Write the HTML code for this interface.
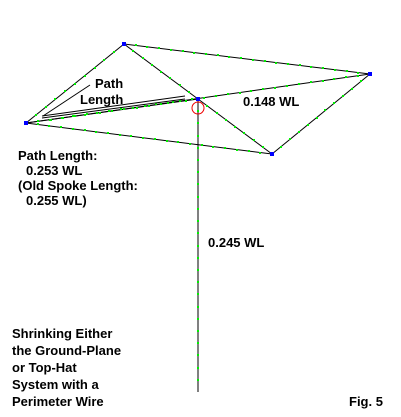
<!DOCTYPE html>
<html><head><meta charset="utf-8"><style>
html,body{margin:0;padding:0;background:#fff;width:401px;height:417px;overflow:hidden}
svg{display:block}
text{font-family:"Liberation Sans",Arial,sans-serif;font-weight:bold;font-size:13px;fill:#000}
</style></head><body>
<svg id="fig" width="401" height="417" viewBox="0 0 401 417">
<g id="wires"></g>
<g id="dots"></g>
<line x1="43" y1="116" x2="90" y2="85" stroke="#000" stroke-width="1"/>
<line x1="42" y1="118" x2="185" y2="99" stroke="#000" stroke-width="1"/>
<line x1="42" y1="116" x2="185" y2="96" stroke="#000" stroke-width="1"/>
<circle cx="198" cy="108" r="6" fill="none" stroke="#e00" stroke-width="1"/>
<g id="nodes"></g>
<text x="95" y="88">Path</text>
<text x="80" y="104">Length</text>
<text x="243" y="106">0.148 WL</text>
<text x="18" y="160">Path Length:</text>
<text x="26" y="175">0.253 WL</text>
<text x="18" y="190">(Old Spoke Length:</text>
<text x="26" y="205">0.255 WL)</text>
<text x="208" y="247">0.245 WL</text>
<text x="12" y="338">Shrinking Either</text>
<text x="12" y="355">the Ground-Plane</text>
<text x="12" y="372">or Top-Hat</text>
<text x="12" y="389">System with a</text>
<text x="12" y="406">Perimeter Wire</text>
<text x="349" y="406">Fig. 5</text>
</svg>
<script>
const nodeNames=["top","right","left","bottom","center","base"];
const nodeX=[124,370,26,272,198,198];
const nodeY=[44,74,123,154,99,392];
const wireFrom=[0,0,1,2,2,4,4,4,4];
const wireTo=[1,2,3,3,1,0,3,2,5];
const ns="http://www.w3.org/2000/svg";
const W=document.getElementById('wires'),D=document.getElementById('dots'),N=document.getElementById('nodes');
for(let i=0;i<wireFrom.length;i++){
 const a=wireFrom[i],b=wireTo[i];
 const l=document.createElementNS(ns,'line');
 l.setAttribute('x1',nodeX[a]);l.setAttribute('y1',nodeY[a]);
 l.setAttribute('x2',nodeX[b]);l.setAttribute('y2',nodeY[b]);
 l.setAttribute('stroke','#000');l.setAttribute('stroke-width','1');
 
 
 W.appendChild(l);
 const dx=nodeX[b]-nodeX[a],dy=nodeY[b]-nodeY[a],len=Math.hypot(dx,dy);
 const n=Math.max(1,Math.round(len/12));
 for(let k=1;k<n;k++){
  const r=document.createElementNS(ns,'rect');
  r.setAttribute('x',Math.round(nodeX[a]+dx*k/n)-1);r.setAttribute('y',Math.round(nodeY[a]+dy*k/n)-1);
  r.setAttribute('width',2);r.setAttribute('height',2);r.setAttribute('fill','#0e0');
  
  
  D.appendChild(r);
 }
}
for(let i=0;i<5;i++){
 const r=document.createElementNS(ns,'rect');
 r.setAttribute('x',nodeX[i]-2);r.setAttribute('y',nodeY[i]-2);
 r.setAttribute('width',4);r.setAttribute('height',4);r.setAttribute('fill','#00f');
 
 
 N.appendChild(r);
}
</script>
</body></html>
